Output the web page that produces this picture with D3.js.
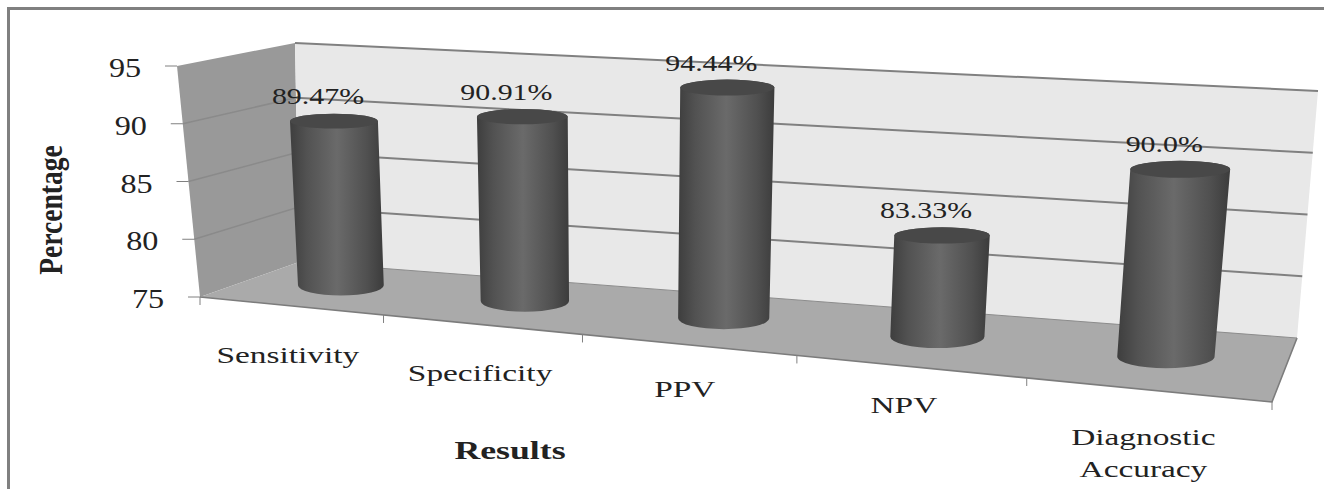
<!DOCTYPE html>
<html>
<head>
<meta charset="utf-8">
<script src="https://cdn.jsdelivr.net/npm/d3@7/dist/d3.min.js"></script>
<style>
  html, body { margin: 0; padding: 0; background: #fff; overflow: hidden; }
  text { font-family: "Liberation Serif", serif; fill: #222; }
</style>
</head>
<body>
<div id="chart"></div>
<script>
const categories = ['Sensitivity', 'Specificity', 'PPV', 'NPV', 'Diagnostic Accuracy'];
const values = [89.47, 90.91, 94.44, 83.33, 90.0];
const valueLabels = ['89.47%', '90.91%', '94.44%', '83.33%', '90.0%'];
const yTicks = [75, 80, 85, 90, 95];

const width = 1324, height = 489;

// corners of the 3d box on screen, order: front-left, front-right, back-right, back-left
const floorCorners = [[200, 297], [1272, 402], [1297, 338], [299, 262]];
const topCorners = [[177, 66], [1298, 142], [1318, 91], [295, 43]];

function quadMap(q) {
  return (u, d) => [0, 1].map(i => {
    const front = q[0][i] + (q[1][i] - q[0][i]) * u;
    const back = q[3][i] + (q[2][i] - q[3][i]) * u;
    return front + (back - front) * d;
  });
}

const floorMap = quadMap(floorCorners);
const topMap = quadMap(topCorners);

const x = d3.scaleBand().domain(categories).range([0, 1]);
const y = d3.scaleLinear().domain([75, 95]).range([0, 1]);

// categories get wider to the right
const warp = u => 0.82 * u + 0.18 * u * u;

// u along the warped categories, d front to back, v is the chart value
function projectRaw(w, d, v) {
  const a = floorMap(w, d), b = topMap(w, d), t = y(v);
  return [a[0] + (b[0] - a[0]) * t, a[1] + (b[1] - a[1]) * t];
}
const project = (u, d, v) => projectRaw(warp(u), d, v);

const svg = d3.select('#chart').append('svg')
  .attr('width', width)
  .attr('height', height)
  .style('display', 'block');

// wide looking text, the original picture is stretched sideways
function wideText(g, px, py, str, size, sx, weight) {
  return g.append('text')
    .attr('transform', `translate(${px},${py}) scale(${sx},1)`)
    .attr('text-anchor', 'middle')
    .attr('font-size', size)
    .attr('font-weight', weight || 'normal')
    .text(str);
}

const defs = svg.append('defs');
const grad = defs.append('linearGradient').attr('id', 'cyl');
[[0, '#3e3e3e'], [0.18, '#525252'], [0.5, '#6a6a6a'], [0.82, '#505050'], [1, '#3c3c3c']].forEach(s => {
  grad.append('stop').attr('offset', s[0]).attr('stop-color', s[1]);
});

// frame
svg.append('path')
  .attr('d', `M8.5,${height} V8.5 H${width}`)
  .attr('fill', 'none')
  .attr('stroke', '#808080')
  .attr('stroke-width', 3);

const line = d3.line();

// walls and floor
const walls = svg.append('g');
walls.append('path')
  .attr('d', line([project(0, 0, 75), project(0, 1, 75), project(0, 1, 95), project(0, 0, 95)]) + 'Z')
  .attr('fill', '#999999');
walls.append('path')
  .attr('d', line([project(0, 1, 75), project(1, 1, 75), project(1, 1, 95), project(0, 1, 95)]) + 'Z')
  .attr('fill', '#e8e8e8');
walls.append('path')
  .attr('d', line([project(0, 0, 75), project(1, 0, 75), project(1, 1, 75), project(0, 1, 75)]) + 'Z')
  .attr('fill', '#aaaaaa');

// gridlines, soft on the side wall
walls.selectAll('.gridside')
  .data(yTicks.slice(1, 4))
  .enter().append('path')
  .attr('class', 'gridside')
  .attr('d', d => line([project(0, 0, d), project(0, 1, d)]))
  .attr('fill', 'none')
  .attr('stroke', '#8a8a8a')
  .attr('stroke-width', 1.5);
walls.selectAll('.gridback')
  .data(yTicks.slice(1))
  .enter().append('path')
  .attr('class', 'gridback')
  .attr('d', d => line([project(0, 1, d), project(1, 1, d)]))
  .attr('fill', 'none')
  .attr('stroke', '#808080')
  .attr('stroke-width', 2);

// outer edges of the floor
walls.append('path')
  .attr('d', line([project(0, 0, 75), project(1, 0, 75), project(1, 1, 75)]))
  .attr('fill', 'none')
  .attr('stroke', '#7c7c7c')
  .attr('stroke-width', 1.6);
walls.append('path')
  .attr('d', line([project(0, 1, 75), project(1, 1, 75)]))
  .attr('fill', 'none')
  .attr('stroke', '#8c8c8c');

// y axis ticks and labels
const yAxis = svg.append('g');
yTicks.forEach(t => {
  const p = project(0, 0, t);
  yAxis.append('line')
    .attr('x1', p[0] - 12).attr('x2', p[0])
    .attr('y1', p[1]).attr('y2', p[1])
    .attr('stroke', '#808080');
  wideText(yAxis, p[0] - 52, p[1] + 11, t, 28, 1.15);
});

// x axis ticks
const xEdges = categories.map(c => x(c)).concat([1]);
svg.selectAll('.xtick')
  .data(xEdges)
  .enter().append('line')
  .attr('class', 'xtick')
  .attr('x1', d => project(d, 0, 75)[0])
  .attr('x2', d => project(d, 0, 75)[0])
  .attr('y1', d => project(d, 0, 75)[1])
  .attr('y2', d => project(d, 0, 75)[1] + 8)
  .attr('stroke', '#808080');

// cylinders
const bars = svg.append('g');
categories.forEach((c, i) => {
  const u = warp(x(c) + x.bandwidth() / 2);
  const half = 0.041 + 0.007 * u;
  const tl = projectRaw(u - half, 0.55, values[i]), tr = projectRaw(u + half, 0.55, values[i]);
  const bl = projectRaw(u - half, 0.55, 75), br = projectRaw(u + half, 0.55, 75);
  const rt = (tr[0] - tl[0]) / 2, rb = (br[0] - bl[0]) / 2;
  const ryt = rt * 0.17, ryb = rb * 0.24;
  const tc = [(tl[0] + tr[0]) / 2, (tl[1] + tr[1]) / 2];
  const by = (bl[1] + br[1]) / 2;
  bars.append('path')
    .attr('d', `M${tl[0]},${tc[1]} L${bl[0]},${by} A${rb},${ryb} 0 0 0 ${br[0]},${by} L${tr[0]},${tc[1]} A${rt},${ryt} 0 0 0 ${tl[0]},${tc[1]} Z`)
    .attr('fill', 'url(#cyl)');
  bars.append('ellipse')
    .attr('cx', tc[0]).attr('cy', tc[1])
    .attr('rx', rt).attr('ry', ryt)
    .attr('fill', '#484848');
  wideText(svg, tc[0] - 16, tc[1] - 17, valueLabels[i], 23, 1.3);
});

// category labels, each one sits a little differently under the floor edge
const labelNudge = [[-2, 57], [-1, 56], [-3, 52], [-6, 46], [-4, 55]];
const catLabels = svg.append('g');
categories.forEach((c, i) => {
  const p = project(x(c) + x.bandwidth() / 2, 0, 75);
  const words = c === 'Diagnostic Accuracy' ? ['Diagnostic', 'Accuracy'] : [c];
  words.forEach((w, j) => {
    wideText(catLabels, p[0] + labelNudge[i][0], p[1] + labelNudge[i][1] + j * 32, w, 24, 1.39);
  });
});

// axis titles
wideText(svg, 510, 459, 'Results', 25, 1.43, 'bold');
svg.append('text')
  .attr('transform', 'translate(62,210) rotate(-90) scale(1.2,1.5)')
  .attr('text-anchor', 'middle')
  .attr('font-size', 23)
  .attr('font-weight', 'bold')
  .text('Percentage');
</script>
</body>
</html>
